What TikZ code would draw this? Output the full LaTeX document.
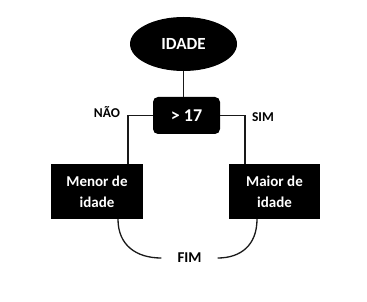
\documentclass[tikz,border=0pt]{standalone}
\usepackage{fontspec}
\setmainfont{Carlito}
\usetikzlibrary{shapes.geometric}
\begin{document}
\begin{tikzpicture}[x=1pt,y=-1pt,
  conn/.style={line width=1.3pt, draw=black!90},
  blk/.style={fill=black, text=white, font=\bfseries},
  lbl/.style={font=\bfseries, text=black}]
\useasboundingbox (0,0) rectangle (367,302);
% start: age input
\node[blk, ellipse, minimum width=107pt, minimum height=54pt, inner sep=0pt, font=\bfseries\fontsize{17}{20}\selectfont] (idade) at (183.5,44) {IDADE};
% decision
\node[blk, rounded corners=5pt, minimum width=67pt, minimum height=37pt, inner sep=0pt, font=\bfseries\fontsize{18}{20}\selectfont] (dec) at (186.5,115.5) {> 17};
% outcomes
\node[blk, minimum width=92pt, minimum height=55pt, inner sep=0pt, align=center, font=\bfseries\fontsize{15}{21}\selectfont] (menor) at (97,191.5) {Menor de\\idade};
\node[blk, minimum width=91pt, minimum height=55pt, inner sep=0pt, align=center, font=\bfseries\fontsize{15}{21}\selectfont] (maior) at (274.5,191.5) {Maior de\\idade};
% end
\node[lbl, inner xsep=16pt, inner ysep=2pt, font=\bfseries\fontsize{15}{17}\selectfont] (fim) at (189.5,258) {FIM};
% branch labels
\node[lbl, font=\bfseries\fontsize{13.5}{15}\selectfont] (nao) at (107,112) {NÃO};
\node[lbl, font=\bfseries\fontsize{13.5}{15}\selectfont] (sim) at (263,117) {SIM};
% connectors
\draw[conn] (idade.south) -- (idade.south |- dec.north);
\coordinate (nin) at ([xshift=31pt]menor.north);
\coordinate (sin) at ([xshift=-29.5pt]maior.north);
\draw[conn] (dec.west) -| (nin);
\draw[conn] (dec.east) -| (sin);
\coordinate (nout) at ([xshift=21pt]menor.south);
\coordinate (sout) at ([xshift=-17.5pt]maior.south);
\draw[conn] (nout) .. controls ([yshift=-26pt]nout) and ([xshift=-25pt]fim.west) .. (fim.west);
\draw[conn] (sout) .. controls ([yshift=-26pt]sout) and ([xshift=23pt]fim.east) .. (fim.east);
\end{tikzpicture}
\end{document}
